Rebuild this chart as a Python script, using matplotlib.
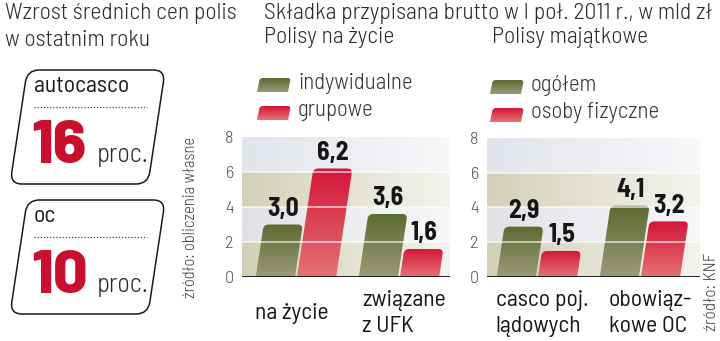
import numpy as np
import matplotlib.pyplot as plt
from matplotlib.path import Path
from matplotlib.patches import PathPatch, FancyBboxPatch
from matplotlib.transforms import Affine2D, blended_transform_factory
from matplotlib.colors import to_rgb

W, H = 720, 341

# data
life_cats = ["na życie", "związane\nz UFK"]
life_indiv = [3.0, 3.6]
life_group = [6.2, 1.6]
prop_cats = ["casco poj.\nlądowych", "obowiąz-\nkowe OC"]
prop_total = [2.9, 4.1]
prop_persons = [1.5, 3.2]
rise_names = ["autocasco", "oc"]
rise_values = [16, 10]
yticks = [0, 2, 4, 6, 8]

GREEN = ("#5d6a31", "#9a9a78")
RED = ("#d4163a", "#e47272")
DARK = "#2b2b2b"
CRIMSON = "#c8102e"
SEMI = "Barlow Semi Condensed"
LIGHT = dict(family=[SEMI, "DejaVu Sans"], fontweight=300)
REG = dict(family=[SEMI, "DejaVu Sans"], fontweight=400)
NUM = dict(family=[SEMI, "DejaVu Sans"], fontweight=700)
BIG = dict(family=["Barlow", SEMI, "DejaVu Sans"], fontweight=800)

plt.rcParams["font.family"] = [SEMI, "DejaVu Sans"]

fig = plt.figure(figsize=(W / 100, H / 100), dpi=100)
fig.patch.set_facecolor("white")


def fx(x):
    return x / W


def fy(y):
    return 1 - y / H


def add_axes_px(x0, y0, x1, y1):
    return fig.add_axes([fx(x0), fy(y1), (x1 - x0) / W, (y1 - y0) / H])


def grad(c_top, c_bot, n=64, horizontal=False):
    a, b = np.array(to_rgb(c_top)), np.array(to_rgb(c_bot))
    t = np.linspace(0, 1, n)[:, None]
    g = a * (1 - t) + b * t
    return g[None, :, :] if horizontal else g[:, None, :]


def slanted_bar(ax, xb, w, h, colors, ux, uy, slant=0.15, r=5):
    # parallelogram leaning right with rounded top corners
    s = slant * h * uy / ux
    rx, ry = r / ux, min(r / uy, h / 2)
    k = (h - ry) / h
    verts = [(xb, 0), (xb + s * k, h - ry), (xb + s, h), (xb + s + rx, h),
             (xb + s + w - rx, h), (xb + s + w, h), (xb + w + s * k, h - ry),
             (xb + w, 0), (xb, 0)]
    codes = [Path.MOVETO, Path.LINETO, Path.CURVE3, Path.CURVE3, Path.LINETO,
             Path.CURVE3, Path.CURVE3, Path.LINETO, Path.CLOSEPOLY]
    patch = PathPatch(Path(verts, codes), facecolor="none", edgecolor="none")
    ax.add_patch(patch)
    im = ax.imshow(grad(*colors), extent=[xb, xb + w + s, 0, h],
                   aspect="auto", zorder=2, interpolation="bilinear")
    im.set_clip_path(patch)
    return xb + s + w / 2


def panel(box, xlim, cats, s1, s2, names, cat_dx, legend_px):
    x0, y0, x1, y1 = box
    ax = add_axes_px(*box)
    ax.set_xlim(*xlim)
    ax.set_ylim(0, 8)
    ux = (x1 - x0) / (xlim[1] - xlim[0])
    uy = (y1 - y0) / 8

    # shaded bands fading to white on the right
    band_cols = ["#d2d0b6", "#e0e2e6", "#d3d1b8", "#e1e4eb"]
    for i, c in enumerate(band_cols):
        light = tuple(0.25 * np.array(to_rgb(c)) + 0.75)
        ax.imshow(grad(c, light, horizontal=True), extent=[xlim[0], xlim[1], 2 * i, 2 * i + 2],
                  aspect="auto", zorder=0, interpolation="bilinear")
    ax.set_xlim(*xlim)
    ax.set_ylim(0, 8)

    w, off = 0.38, 0.2
    for i in range(len(cats)):
        for vals, cols, d in ((s1, GREEN, -off), (s2, RED, off)):
            v = vals[i]
            xc = slanted_bar(ax, i + d - w / 2, w, v, cols, ux, uy)
            ax.text(xc, v + 0.2, f"{v:.1f}".replace(".", ","), ha="center", va="bottom",
                    fontsize=18.5, color="#151515", zorder=5, **NUM)
    for yv in yticks[1:-1]:
        ax.axhline(yv, color="white", lw=1.3, alpha=0.65, zorder=3)
    ax.axhline(0, color="#111111", lw=2, zorder=4)

    ax.set_xticks([])
    ax.set_yticks(yticks)
    ax.set_yticklabels([str(t) for t in yticks], color="#555555", fontsize=13, **LIGHT)
    ax.tick_params(axis="y", length=0, pad=6)
    for sp in ax.spines.values():
        sp.set_visible(False)

    tr = blended_transform_factory(ax.transData, ax.transAxes)
    for i, c in enumerate(cats):
        ax.text(i + cat_dx[i], -0.26, c, transform=tr, ha="center", va="center",
                multialignment="left", fontsize=17, color="#161616", linespacing=1.3, **REG)

    # legend: small slanted swatches with labels
    lx, ly = legend_px
    for j, (nm, cols) in enumerate(zip(names, (GREEN, RED))):
        sy = ly + j * 28
        sw = add_axes_px(lx, sy - 8, lx + 34, sy + 8)
        sw.set_xlim(0, 34)
        sw.set_ylim(0, 16)
        sw.axis("off")
        slanted_bar(sw, 0, 31, 14, cols, 1, 1, slant=0.2, r=3)
        sw.set_xlim(0, 34)
        sw.set_ylim(0, 16)
        fig.text(fx(lx + 41), fy(sy - 1), nm, ha="left", va="center", fontsize=16.5,
                 color="#333333", **LIGHT)
    return ax


panel((242, 137, 450, 277), (-0.524, 1.495), life_cats, life_indiv, life_group,
      ["indywidualne", "grupowe"], [-0.04, 0.05], (257, 84))
panel((487, 138, 700, 277), (-0.485, 1.583), prop_cats, prop_total, prop_persons,
      ["ogółem", "osoby fizyczne"], [0.05, 0.1], (490, 86))

# headings
heads = [(5, 14, "Wzrost średnich cen polis"), (5, 40, "w ostatnim roku"),
         (264, 14, "Składka przypisana brutto w I poł. 2011 r., w mld zł"),
         (264, 38, "Polisy na życie"), (492, 38, "Polisy majątkowe")]
for hx, hy, s in heads:
    fig.text(fx(hx), fy(hy), s, ha="left", va="center", fontsize=17, color=DARK, **LIGHT)

# price rise boxes on the left
px_tr = Affine2D().scale(1 / W, 1 / H) + fig.transFigure
for k, (nm, val) in enumerate(zip(rise_names, rise_values)):
    top = 70 + k * 130
    bot = top + 114
    box = FancyBboxPatch((10, H - bot), 138, bot - top,
                         boxstyle="round,pad=0,rounding_size=12",
                         facecolor="none", edgecolor="#1a1a1a", lw=1.1)
    box.set_transform(Affine2D().translate(-10, -(H - bot)).skew_deg(8.6, 0)
                      .translate(10, H - bot) + px_tr)
    fig.patches.append(box)
    fig.text(fx(34), fy(top + 17), nm, ha="left", va="center", fontsize=17,
             color="#1a1a1a", **REG)
    fig.add_artist(plt.Line2D([fx(34), fx(147)], [fy(top + 37), fy(top + 37)],
                              color="#444444", lw=0.9, ls=(0, (1, 1.5))))
    fig.text(fx(31), fy(top + 93), str(val), ha="left", va="baseline", fontsize=44,
             color=CRIMSON, **BIG)
    fig.text(fx(97), fy(top + 92), "proc.", ha="left", va="baseline", fontsize=19,
             color="#2a2a2a", **LIGHT)

# sources
fig.text(fx(191), fy(217), "źródło: obliczenia własne", rotation=90, ha="center",
         va="center", fontsize=12, color="#444444", **LIGHT)
fig.text(fx(712), fy(292), "źródło: KNF", rotation=90, ha="center",
         va="center", fontsize=12.5, color="#444444", **LIGHT)

fig.savefig("out.png", dpi=100, facecolor="white")
